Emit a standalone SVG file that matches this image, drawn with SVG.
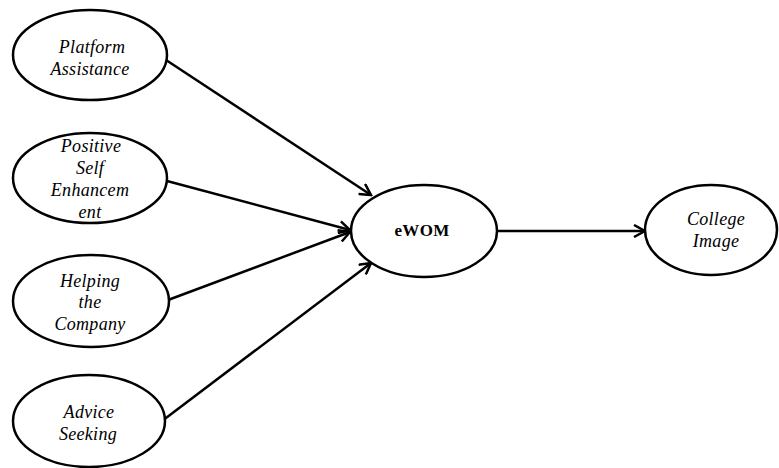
<svg xmlns="http://www.w3.org/2000/svg" width="779" height="468" viewBox="0 0 779 468">
<style>
.node ellipse{fill:#fff;stroke:#000;stroke-width:2.5}
.node text{font-family:"Liberation Serif","Times New Roman",serif;font-style:italic;font-size:18px;letter-spacing:0.3px;text-anchor:middle;fill:#000}
.node text.b{font-style:normal;font-weight:bold;font-size:17px}
.conn line{stroke:#000;stroke-width:2.5;marker-end:url(#arr)}
</style>
<defs>
<marker id="arr" markerWidth="14" markerHeight="14" refX="12" refY="7" orient="auto" markerUnits="userSpaceOnUse">
<path d="M1,1 L12,7 L1,13" fill="none" stroke="#000" stroke-width="2.5"/>
</marker>
</defs>
<rect width="779" height="468" fill="#fff"/>
<g class="conn">
<line x1="166" y1="60" x2="371" y2="195"/>
<line x1="167" y1="181" x2="350" y2="230"/>
<line x1="168" y1="300" x2="350" y2="232"/>
<line x1="162" y1="421" x2="371" y2="263"/>
<line x1="497" y1="231" x2="645" y2="231"/>
</g>
<g id="platform" class="node">
<ellipse cx="90" cy="55" rx="77" ry="45"/>
<text x="92" y="53">Platform</text>
<text x="90" y="75">Assistance</text>
</g>
<g id="positive" class="node">
<ellipse cx="90" cy="178" rx="77" ry="45"/>
<text x="91" y="152">Positive</text>
<text x="90" y="174">Self</text>
<text x="90" y="196">Enhancem</text>
<text x="90" y="218">ent</text>
</g>
<g id="helping" class="node">
<ellipse cx="91" cy="301" rx="78" ry="46"/>
<text x="90" y="287">Helping</text>
<text x="90" y="308">the</text>
<text x="90" y="330">Company</text>
</g>
<g id="advice" class="node">
<ellipse cx="89" cy="421" rx="76" ry="46"/>
<text x="89" y="418">Advice</text>
<text x="88" y="440">Seeking</text>
</g>
<g id="ewom" class="node">
<ellipse cx="424" cy="231" rx="73" ry="46"/>
<text class="b" x="422" y="236">eWOM</text>
</g>
<g id="college" class="node">
<ellipse cx="711" cy="230" rx="66" ry="45"/>
<text x="716" y="225">College</text>
<text x="716" y="247">Image</text>
</g>
</svg>
